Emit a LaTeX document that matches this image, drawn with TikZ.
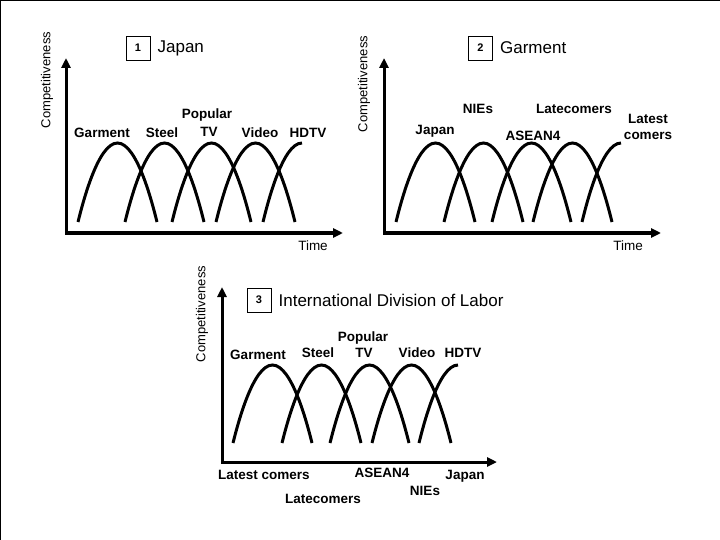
\documentclass[tikz,border=0pt]{standalone}
\usepackage{fontspec}
\setmainfont{Liberation Sans}
\usetikzlibrary{arrows.meta, positioning}

\begin{document}
\begin{tikzpicture}[
    x=1pt, y=-1pt,
    axis/.style={{Triangle[length=10pt,width=9pt]}-{Triangle[length=10pt,width=9pt]},
                 line width=3pt, line join=miter},
    curve/.style={line width=3pt},
    lbl/.style={font=\fontsize{13.5}{16}\selectfont\bfseries, inner sep=0pt, anchor=base},
    ylbl/.style={font=\fontsize{13}{15}\selectfont, rotate=90, inner sep=0pt},
    xlbl/.style={font=\fontsize{13.5}{15}\selectfont, inner sep=0pt, anchor=base},
    numbox/.style={draw, line width=0.8pt, minimum size=24pt, inner sep=0pt,
                   font=\fontsize{11}{12}\selectfont\bfseries},
    title/.style={font=\fontsize{17}{19}\selectfont, inner sep=0pt}
]
    \useasboundingbox (0,0) rectangle (720,540);
    \draw[line width=2pt] (0,540) -- (0,0) -- (720,0);

    % panel 1: Japan
    \coordinate (ytop1) at (66,58);
    \coordinate (orig1) at (66,233);
    \coordinate (xend1) at (343,233);
    \draw[axis] (ytop1) -- (orig1) -- (xend1);
    \node[ylbl] (comp1) at (47,80) {Competitiveness};
    \node[xlbl] (time1) at (313,250) {Time};
    \node[numbox] (box1) at (138,48) {1};
    \node[title, right=7pt of box1] (japan1) {Japan};
    \foreach \s in {78,125,172,216}
        \draw[curve] (\s,222) parabola bend (\s+39.5,143) (\s+79,222);
    \draw[curve] (302,143) parabola (263,222);
    \node[lbl] (garment1) at (102,138) {Garment};
    \node[lbl] (steel1) at (162,138) {Steel};
    \node[lbl] (popular1) at (207,119) {Popular};
    \node[lbl] (tv1) at (209,137) {TV};
    \node[lbl] (video1) at (260,138) {Video};
    \node[lbl] (hdtv1) at (308,138) {HDTV};

    % panel 2: Garment
    \coordinate (ytop2) at (384,58);
    \coordinate (orig2) at (384,233);
    \coordinate (xend2) at (661,233);
    \draw[axis] (ytop2) -- (orig2) -- (xend2);
    \node[ylbl] (comp2) at (364,84) {Competitiveness};
    \node[xlbl] (time2) at (628,250) {Time};
    \node[numbox] (box2) at (480.5,48) {2};
    \node[title, right=7pt of box2] (garment2) {Garment};
    \foreach \s in {396,444,492,533}
        \draw[curve] (\s,222) parabola bend (\s+39.5,143) (\s+79,222);
    \draw[curve] (621,143) parabola (582,222);
    \node[lbl] (japan2) at (435,134.5) {Japan};
    \node[lbl] (nies2) at (478,114) {NIEs};
    \node[lbl] (asean2) at (533,141) {ASEAN4};
    \node[lbl] (late2) at (574,114) {Latecomers};
    \node[lbl] (latest2) at (648,124) {Latest};
    \node[lbl] (comers2) at (648,140) {comers};

    % panel 3: International Division of Labor
    \coordinate (ytop3) at (222,287);
    \coordinate (orig3) at (222,462);
    \coordinate (xend3) at (497,462);
    \draw[axis] (ytop3) -- (orig3) -- (xend3);
    \node[ylbl] (comp3) at (202,314) {Competitiveness};
    \node[numbox] (box3) at (259,300) {3};
    \node[title, right=7pt of box3] (idl3) {International Division of Labor};
    \foreach \s in {233,282,330,372}
        \draw[curve] (\s,443) parabola bend (\s+39.5,365) (\s+79,443);
    \draw[curve] (458,365) parabola (419,443);
    \node[lbl] (garment3) at (258,359) {Garment};
    \node[lbl] (steel3) at (318,357) {Steel};
    \node[lbl] (popular3) at (363,341.5) {Popular};
    \node[lbl] (tv3) at (364,357) {TV};
    \node[lbl] (video3) at (417,357) {Video};
    \node[lbl] (hdtv3) at (463,357) {HDTV};
    \node[lbl] (latest3) at (264,479) {Latest comers};
    \node[lbl] (asean3) at (382,477) {ASEAN4};
    \node[lbl] (japan3) at (465,479) {Japan};
    \node[lbl] (late3) at (323,503) {Latecomers};
    \node[lbl] (nies3) at (425,495) {NIEs};
\end{tikzpicture}
\end{document}
